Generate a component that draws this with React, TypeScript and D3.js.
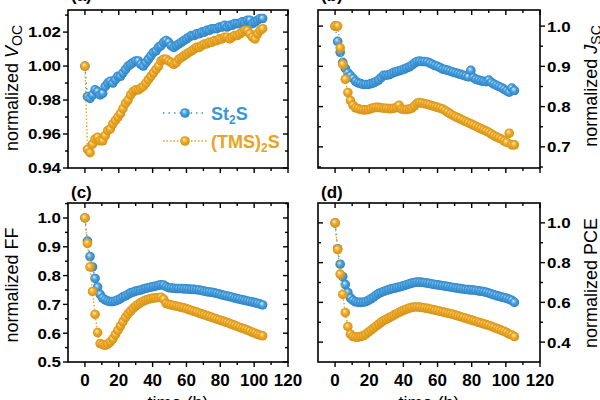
import React from 'react';
import * as d3 from 'd3';

// time axis (h)
const times = [
  0, 1.5, 3, 4.5, 6, 7.5, 9, 10.5, 12, 13.5,
  15, 16.5, 18, 19.5, 21, 22.5, 24, 25.5, 27, 28.5,
  30, 31.5, 33, 34.5, 36, 37.5, 39, 40.5, 42, 43.5,
  45, 46.5, 48, 49.5, 51, 52.5, 54, 55.5, 57, 58.5,
  60, 61.5, 63, 64.5, 66, 67.5, 69, 70.5, 72, 73.5,
  75, 76.5, 78, 79.5, 81, 82.5, 84, 85.5, 87, 88.5,
  90, 91.5, 93, 94.5, 96, 97.5, 99, 100.5, 102, 103.5,
  105,
];

// (a) normalized Voc
const vocSt2S = [
  1.000, 0.982, 0.981, 0.983, 0.986, 0.985, 0.983, 0.984, 0.988, 0.990,
  0.991, 0.990, 0.992, 0.994, 0.994, 0.996, 0.998, 1.000, 1.001, 1.002,
  1.003, 1.003, 1.001, 1.000, 1.002, 1.004, 1.006, 1.008, 1.009, 1.011,
  1.012, 1.014, 1.015, 1.014, 1.012, 1.011, 1.012, 1.013, 1.014, 1.015,
  1.016, 1.017, 1.018, 1.018, 1.019, 1.019, 1.020, 1.020, 1.021, 1.021,
  1.022, 1.022, 1.022, 1.023, 1.023, 1.024, 1.023, 1.024, 1.024, 1.025,
  1.025, 1.025, 1.026, 1.026, 1.027, 1.027, 1.025, 1.026, 1.027, 1.028,
  1.028,
];
const vocTMS = [
  1.000, 0.951, 0.949, 0.954, 0.957, 0.958, 0.956, 0.956, 0.959, 0.962,
  0.963, 0.966, 0.968, 0.970, 0.972, 0.975, 0.978, 0.980, 0.983, 0.985,
  0.986, 0.986, 0.987, 0.988, 0.990, 0.992, 0.994, 0.996, 0.998, 1.000,
  1.003, 1.004, 1.004, 1.003, 1.002, 1.001, 1.002, 1.004, 1.005, 1.006,
  1.007, 1.008, 1.009, 1.010, 1.011, 1.011, 1.012, 1.013, 1.013, 1.014,
  1.014, 1.015, 1.015, 1.016, 1.016, 1.017, 1.017, 1.016, 1.017, 1.018,
  1.018, 1.019, 1.020, 1.021, 1.021, 1.019, 1.017, 1.016, 1.019, 1.021,
  1.022,
];

// (b) normalized Jsc
const jscSt2S = [
  1.000, 0.962, 0.935, 0.910, 0.895, 0.884, 0.877, 0.870, 0.863, 0.859,
  0.857, 0.855, 0.855, 0.855, 0.857, 0.859, 0.862, 0.866, 0.872, 0.878,
  0.878, 0.879, 0.882, 0.885, 0.887, 0.889, 0.891, 0.893, 0.896, 0.899,
  0.903, 0.908, 0.912, 0.913, 0.912, 0.912, 0.911, 0.908, 0.905, 0.902,
  0.900, 0.897, 0.893, 0.892, 0.890, 0.888, 0.886, 0.884, 0.882, 0.880,
  0.878, 0.876, 0.874, 0.890, 0.872, 0.868, 0.866, 0.864, 0.863, 0.862,
  0.866, 0.860, 0.856, 0.853, 0.850, 0.847, 0.843, 0.839, 0.836, 0.846,
  0.840,
];
const jscTMS = [
  1.000, 1.000, 0.946, 0.905, 0.868, 0.835, 0.815, 0.803, 0.797, 0.795,
  0.793, 0.792, 0.792, 0.793, 0.795, 0.797, 0.798, 0.798, 0.797, 0.796,
  0.796, 0.795, 0.795, 0.796, 0.798, 0.803, 0.794, 0.793, 0.793, 0.794,
  0.796, 0.802, 0.808, 0.810, 0.809, 0.807, 0.806, 0.804, 0.802, 0.800,
  0.798, 0.796, 0.794, 0.790, 0.786, 0.782, 0.778, 0.775, 0.772, 0.769,
  0.766, 0.763, 0.760, 0.757, 0.754, 0.751, 0.748, 0.745, 0.742, 0.739,
  0.736, 0.732, 0.728, 0.725, 0.722, 0.719, 0.715, 0.711, 0.734, 0.705,
  0.705,
];

// (c) normalized FF
const ffSt2S = [
  1.000, 0.920, 0.866, 0.830, 0.790, 0.760, 0.735, 0.722, 0.716, 0.712,
  0.710, 0.710, 0.712, 0.716, 0.720, 0.726, 0.730, 0.735, 0.740, 0.743,
  0.746, 0.748, 0.750, 0.753, 0.756, 0.758, 0.760, 0.762, 0.764, 0.766,
  0.768, 0.767, 0.762, 0.758, 0.757, 0.756, 0.755, 0.755, 0.755, 0.754,
  0.754, 0.753, 0.752, 0.752, 0.751, 0.750, 0.748, 0.746, 0.744, 0.743,
  0.742, 0.740, 0.738, 0.736, 0.733, 0.731, 0.729, 0.727, 0.725, 0.722,
  0.720, 0.718, 0.716, 0.714, 0.712, 0.710, 0.708, 0.706, 0.704, 0.701,
  0.698,
];
const ffTMS = [
  1.000, 0.912, 0.830, 0.745, 0.665, 0.602, 0.564, 0.560, 0.558, 0.562,
  0.570, 0.580, 0.595, 0.610, 0.625, 0.640, 0.655, 0.667, 0.677, 0.686,
  0.694, 0.700, 0.706, 0.711, 0.715, 0.718, 0.720, 0.722, 0.723, 0.724,
  0.725, 0.718, 0.703, 0.700, 0.698, 0.696, 0.694, 0.692, 0.690, 0.688,
  0.685, 0.682, 0.679, 0.676, 0.673, 0.670, 0.667, 0.664, 0.661, 0.658,
  0.655, 0.652, 0.649, 0.646, 0.643, 0.640, 0.637, 0.634, 0.630, 0.627,
  0.624, 0.620, 0.617, 0.614, 0.611, 0.607, 0.603, 0.600, 0.596, 0.593,
  0.591,
];

// (d) normalized PCE
const pceSt2S = [
  1.000, 0.870, 0.792, 0.730, 0.690, 0.650, 0.622, 0.610, 0.603, 0.600,
  0.600, 0.601, 0.604, 0.610, 0.618, 0.626, 0.636, 0.644, 0.650, 0.655,
  0.660, 0.664, 0.668, 0.671, 0.674, 0.677, 0.681, 0.685, 0.689, 0.693,
  0.697, 0.700, 0.702, 0.702, 0.701, 0.699, 0.697, 0.695, 0.692, 0.690,
  0.688, 0.686, 0.684, 0.682, 0.680, 0.677, 0.675, 0.673, 0.671, 0.669,
  0.667, 0.665, 0.664, 0.663, 0.662, 0.660, 0.658, 0.656, 0.654, 0.651,
  0.647, 0.643, 0.638, 0.634, 0.630, 0.627, 0.624, 0.620, 0.615, 0.610,
  0.600,
];
const pceTMS = [
  1.000, 0.866, 0.742, 0.640, 0.548, 0.478, 0.440, 0.428, 0.425, 0.425,
  0.428, 0.432, 0.440, 0.450, 0.460, 0.470, 0.480, 0.490, 0.500, 0.508,
  0.515, 0.522, 0.529, 0.536, 0.543, 0.550, 0.556, 0.561, 0.566, 0.571,
  0.575, 0.577, 0.577, 0.576, 0.574, 0.572, 0.570, 0.567, 0.564, 0.561,
  0.558, 0.555, 0.552, 0.549, 0.546, 0.543, 0.540, 0.536, 0.532, 0.528,
  0.524, 0.520, 0.516, 0.512, 0.508, 0.504, 0.500, 0.496, 0.492, 0.488,
  0.484, 0.479, 0.474, 0.469, 0.464, 0.459, 0.454, 0.448, 0.440, 0.436,
  0.428,
];

// ticks
const xMajor = [0, 20, 40, 60, 80, 100, 120];
const xMinor = [10, 30, 50, 70, 90, 110];
const vocMajor = [0.94, 0.96, 0.98, 1.0, 1.02];
const vocMinor = [0.95, 0.97, 0.99, 1.01, 1.03];
const jscMajor = [0.7, 0.8, 0.9, 1.0];
const jscMinor = [0.65, 0.75, 0.85, 0.95];
const ffMajor = [0.5, 0.6, 0.7, 0.8, 0.9, 1.0];
const ffMinor = [0.55, 0.65, 0.75, 0.85, 0.95, 1.05];
const pceMajor = [0.4, 0.6, 0.8, 1.0];
const pceMinor = [0.5, 0.7, 0.9];

const FONT = '"Liberation Sans", Arial, sans-serif';
const BLUE = '#3a97d6';
const ORANGE = '#e9a321';

type PanelCfg = {
  label: string;
  labelY: number;
  x0: number; x1: number; y0: number; y1: number;
  yDomain: [number, number];
  major: number[]; minor: number[];
  fmt: string;
  side: 'left' | 'right';
  st: number[]; tms: number[];
  title: string; sub: string; italic: string;
  titleY: number;
  showX: boolean;
};

const panels: PanelCfg[] = [
  { label: '(a)', labelY: 1, x0: 68, x1: 288, y0: 10, y1: 168, yDomain: [0.94, 1.033],
    major: vocMajor, minor: vocMinor, fmt: '.2f', side: 'left', st: vocSt2S, tms: vocTMS,
    title: 'normalized ', italic: 'V', sub: 'OC', titleY: 88, showX: false },
  { label: '(b)', labelY: 1, x0: 318, x1: 540, y0: 10, y1: 168, yDomain: [0.6475, 1.04],
    major: jscMajor, minor: jscMinor, fmt: '.1f', side: 'right', st: jscSt2S, tms: jscTMS,
    title: 'normalized ', italic: 'J', sub: 'SC', titleY: 86, showX: false },
  { label: '(c)', labelY: 198, x0: 68, x1: 288, y0: 203, y1: 362, yDomain: [0.5, 1.052],
    major: ffMajor, minor: ffMinor, fmt: '.1f', side: 'left', st: ffSt2S, tms: ffTMS,
    title: 'normalized FF', italic: '', sub: '', titleY: 285, showX: true },
  { label: '(d)', labelY: 198, x0: 318, x1: 540, y0: 203, y1: 362, yDomain: [0.3, 1.1],
    major: pceMajor, minor: pceMinor, fmt: '.1f', side: 'right', st: pceSt2S, tms: pceTMS,
    title: 'normalized PCE', italic: '', sub: '', titleY: 283, showX: true },
];

const MAJ = 5;
const MIN = 3;
const R = 4.8;

function Series({ values, x, y, color, grad, dash }: any) {
  const pts = values.map((v: number, i: number) => [times[i], v]).filter((d: any) => d[0] !== undefined);
  const line = d3.line<number[]>().x((d) => x(d[0])).y((d) => y(d[1]));
  return (
    <g>
      <path d={line(pts) || ''} fill="none" stroke={color} strokeWidth={1.4} strokeDasharray={dash} />
      {pts.map((d: number[], i: number) => (
        <circle key={i} cx={x(d[0])} cy={y(d[1])} r={R} fill={`url(#${grad})`} />
      ))}
    </g>
  );
}

function Panel({ p }: { p: PanelCfg }) {
  const x = d3.scaleLinear().domain([-10, 120]).range([p.x0, p.x1]);
  const y = d3.scaleLinear().domain(p.yDomain).range([p.y1, p.y0]);
  const fmt = d3.format(p.fmt);
  const out = p.side === 'left' ? -1 : 1;
  const axisX = p.side === 'left' ? p.x0 : p.x1;
  const mirrorX = p.side === 'left' ? p.x1 : p.x0;
  const titleX = p.side === 'left' ? 17.5 : 597;

  return (
    <g>
      {/* series: St2S below, (TMS)2S above */}
      <Series values={p.st} x={x} y={y} color={BLUE} grad="gBlue" dash="1.5 4" />
      <Series values={p.tms} x={x} y={y} color={ORANGE} grad="gOrange" dash="1.5 2" />

      {/* frame */}
      <rect x={p.x0} y={p.y0} width={p.x1 - p.x0} height={p.y1 - p.y0} fill="none" stroke="#000" strokeWidth={1.6} />

      {/* x ticks: bottom outward, top inward */}
      {xMajor.map((t) => (
        <g key={'xm' + t}>
          <line x1={x(t)} x2={x(t)} y1={p.y1} y2={p.y1 + MAJ} stroke="#000" strokeWidth={1.4} />
          <line x1={x(t)} x2={x(t)} y1={p.y0} y2={p.y0 + MAJ} stroke="#000" strokeWidth={1.4} />
        </g>
      ))}
      {xMinor.map((t) => (
        <g key={'xn' + t}>
          <line x1={x(t)} x2={x(t)} y1={p.y1} y2={p.y1 + MIN} stroke="#000" strokeWidth={1.4} />
          <line x1={x(t)} x2={x(t)} y1={p.y0} y2={p.y0 + MIN} stroke="#000" strokeWidth={1.4} />
        </g>
      ))}
      {p.showX && xMajor.map((t) => (
        <text key={'xl' + t} x={x(t)} y={p.y1 + 24} textAnchor="middle" fontFamily={FONT}
          fontWeight="bold" fontSize={17}>{t}</text>
      ))}
      {p.showX && (
        <text x={(p.x0 + p.x1) / 2} y={409} textAnchor="middle" fontFamily={FONT} fontSize={18}>time (h)</text>
      )}

      {/* y ticks: labelled side outward, mirror side inward */}
      {p.major.map((v) => (
        <g key={'ym' + v}>
          <line x1={axisX} x2={axisX + out * MAJ} y1={y(v)} y2={y(v)} stroke="#000" strokeWidth={1.4} />
          <line x1={mirrorX} x2={mirrorX + out * MAJ} y1={y(v)} y2={y(v)} stroke="#000" strokeWidth={1.4} />
          <text transform={`translate(${axisX + out * 7},${y(v)}) scale(1.13,1)`} dy="0.36em"
            textAnchor={p.side === 'left' ? 'end' : 'start'} fontFamily={FONT} fontWeight="bold"
            fontSize={15}>{fmt(v)}</text>
        </g>
      ))}
      {p.minor.map((v) => (
        <g key={'yn' + v}>
          <line x1={axisX} x2={axisX + out * MIN} y1={y(v)} y2={y(v)} stroke="#000" strokeWidth={1.4} />
          <line x1={mirrorX} x2={mirrorX + out * MIN} y1={y(v)} y2={y(v)} stroke="#000" strokeWidth={1.4} />
        </g>
      ))}

      {/* axis title */}
      <text transform={`translate(${titleX},${p.titleY}) rotate(-90)`} textAnchor="middle"
        fontFamily={FONT} fontSize={18}>
        <tspan>{p.title}</tspan>
        {p.italic && <tspan fontStyle="italic">{p.italic}</tspan>}
        {p.sub && <tspan fontSize={14} dy={4}>{p.sub}</tspan>}
      </text>

      {/* panel label */}
      <text x={p.x0 + 3} y={p.labelY} fontFamily={FONT} fontWeight="bold" fontSize={17}>{p.label}</text>
    </g>
  );
}

function Legend() {
  const rows = [
    { name: 'St', color: BLUE, grad: 'gBlue', dash: '1.5 4', y: 113 },
    { name: '(TMS)', color: ORANGE, grad: 'gOrange', dash: '1.5 2', y: 141 },
  ];
  return (
    <g>
      {rows.map((r) => (
        <g key={r.name}>
          <line x1={163} x2={207} y1={r.y} y2={r.y} stroke={r.color} strokeWidth={1.5} strokeDasharray={r.dash} />
          <circle cx={185} cy={r.y} r={R} fill={`url(#${r.grad})`} />
          <text x={211} y={r.y + 6.5} fill={r.color} fontFamily={FONT} fontWeight="bold" fontSize={18}>
            <tspan>{r.name}</tspan>
            <tspan fontSize={12} dy={4}>2</tspan>
            <tspan dy={-4}>S</tspan>
          </text>
        </g>
      ))}
    </g>
  );
}

export default function App() {
  return (
    <svg width={600} height={400} style={{ position: 'absolute', left: 0, top: 0, background: '#fff' }}>
      <defs>
        <radialGradient id="gBlue" cx="0.5" cy="0.5" r="0.55" fx="0.38" fy="0.32">
          <stop offset="0%" stopColor="#d8eeff" />
          <stop offset="45%" stopColor="#4aa3e0" />
          <stop offset="100%" stopColor="#2a7cbf" />
        </radialGradient>
        <radialGradient id="gOrange" cx="0.5" cy="0.5" r="0.55" fx="0.38" fy="0.32">
          <stop offset="0%" stopColor="#fff0c4" />
          <stop offset="45%" stopColor="#f0ab28" />
          <stop offset="100%" stopColor="#cf8d12" />
        </radialGradient>
      </defs>
      {panels.map((p) => (
        <Panel key={p.label} p={p} />
      ))}
      <Legend />
    </svg>
  );
}
